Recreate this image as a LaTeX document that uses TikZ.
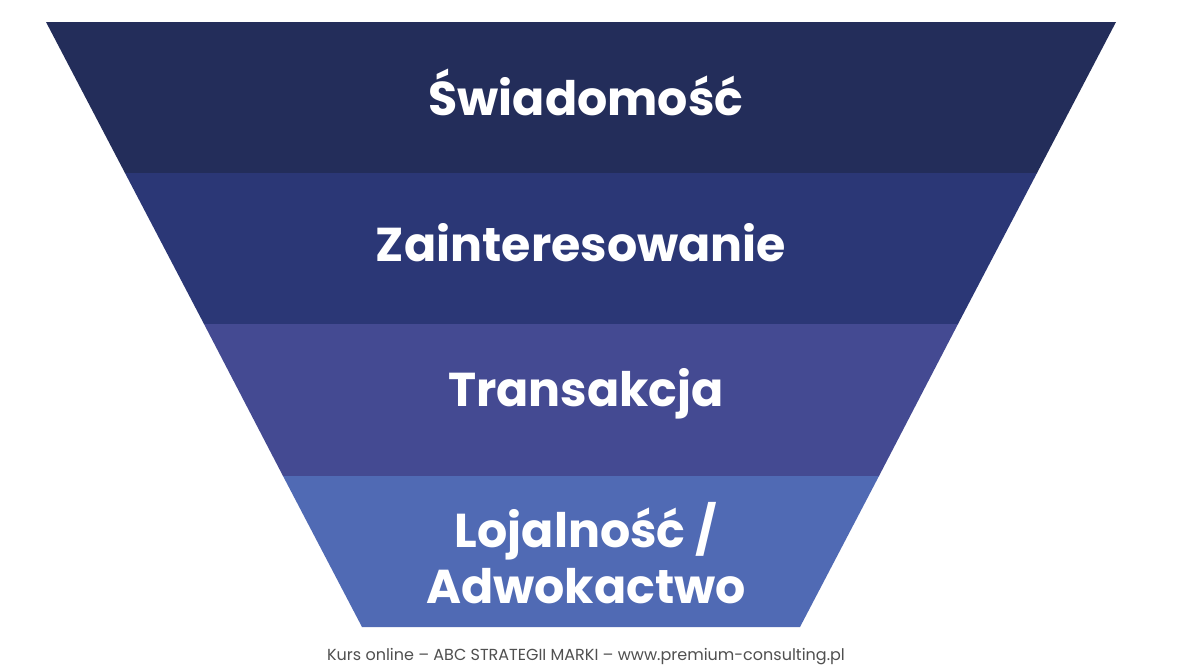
\documentclass[tikz,border=0pt]{standalone}
\usepackage{fontspec}
\setmainfont{Poppins}
\usetikzlibrary{positioning}

\definecolor{bandone}{RGB}{35,45,90}
\definecolor{bandtwo}{RGB}{43,55,118}
\definecolor{bandthree}{RGB}{68,74,146}
\definecolor{bandfour}{RGB}{80,106,180}
\definecolor{footgray}{RGB}{80,80,80}

\begin{document}
\begin{tikzpicture}[x=1pt, y=-1pt,
		stage/.style={text=white, text centered, align=center,
			font=\bfseries\fontsize{47.5}{56}\selectfont},
		credit/.style={text=footgray, font=\fontsize{16}{18}\selectfont},
]

\fill[white] (0,0) rectangle (1200,672);
\useasboundingbox (0,0) rectangle (1200,672);

% funnel bands
\fill[bandone] (46,22) -- (1116,22) -- (1037,173) -- (125,173) -- cycle;
\fill[bandtwo] (125,173) -- (1037,173) -- (958,324) -- (204,324) -- cycle;
\fill[bandthree] (204,324) -- (958,324) -- (879,476) -- (283,476) -- cycle;
\fill[bandfour] (283,476) -- (879,476) -- (800,627) -- (362,627) -- cycle;

% labels
\node [stage] (Awareness) at (586,92) {Świadomość};
\node [stage] (Interest) at (581,243) {Zainteresowanie};
\node [stage] (Purchase) at (586,394) {Transakcja};
\node [stage] (Loyalty) at (586,553) {Lojalność /\\Adwokactwo};

\node [credit] (Footer) at (586,657) {Kurs online – ABC STRATEGII MARKI – www.premium-consulting.pl};

\end{tikzpicture}
\end{document}
